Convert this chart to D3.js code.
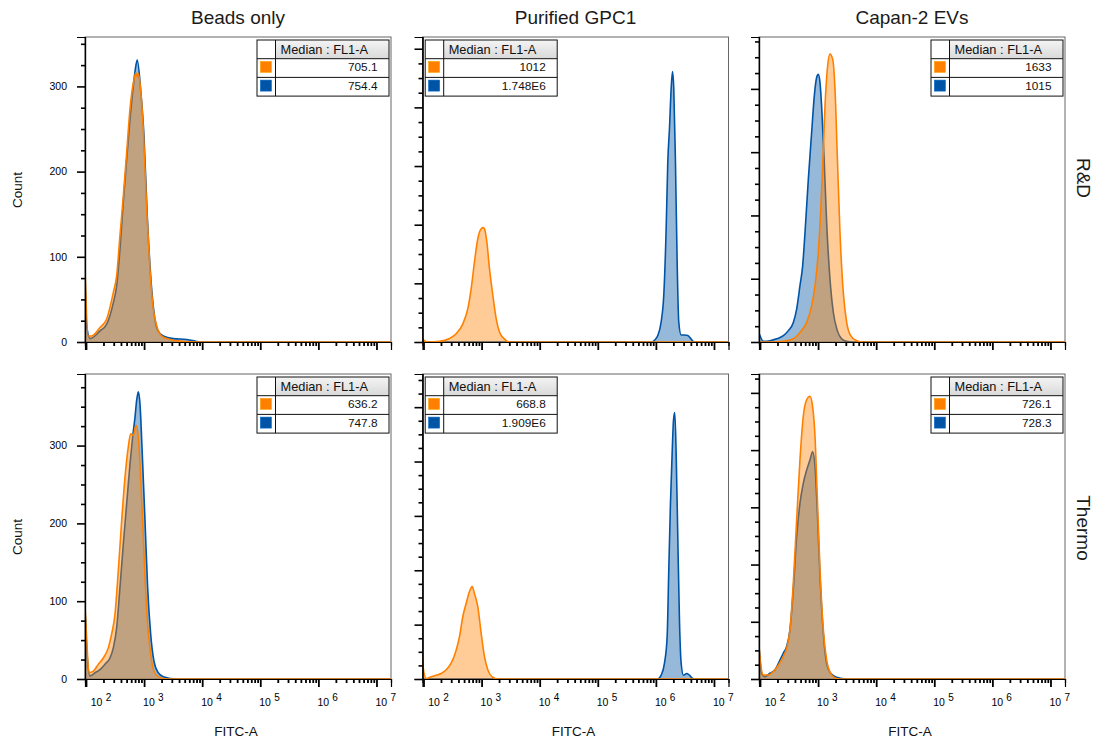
<!DOCTYPE html>
<html>
<head>
<meta charset="utf-8">
<script src="https://cdn.jsdelivr.net/npm/d3@7"></script>
<style>
  html, body { margin: 0; padding: 0; background: #fff; }
  svg { display: block; font-family: "Liberation Sans", Arial, Helvetica, sans-serif; }
</style>
</head>
<body>
<svg id="chart" width="1097" height="740"></svg>
<script>
// ---- labels ----
const columns = ["Beads only", "Purified GPC1", "Capan-2 EVs"];
const rows = ["R&D", "Thermo"];
const xExponents = [2, 3, 4, 5, 6, 7];
const countTicks = [0, 100, 200, 300];
const headerText = "Median : FL1-A";

// ---- medians shown in the stat tables ----
const rdMedianOrange = ["705.1", "1012", "1633"];
const rdMedianBlue = ["754.4", "1.748E6", "1015"];
const thermoMedianOrange = ["636.2", "668.8", "726.1"];
const thermoMedianBlue = ["747.8", "1.909E6", "728.3"];

// ---- count axis maximum per panel ----
const rdCountMax = [358, 520, 482];
const thermoCountMax = [392, 561, 533];

// ---- histograms: [log10(FITC-A), count] ----
const rdBeadsOrange = [[1.983,86],[2.04,7],[2.098,7],[2.241,17],[2.356,27],[2.47,58],[2.528,78],[2.585,125],[2.642,171],[2.70,222],[2.757,273],[2.814,304],[2.86,316],[2.88,311],[2.90,315],[2.929,304],[2.986,250],[3.045,156],[3.10,86],[3.158,39],[3.217,19],[3.303,7],[3.446,3],[3.618,1],[3.9,0],[7.25,0]];
const rdBeadsBlue = [[1.983,80],[2.01,20],[2.07,4],[2.241,13],[2.356,21],[2.47,46],[2.528,66],[2.585,109],[2.642,164],[2.70,214],[2.757,261],[2.814,300],[2.86,325],[2.883,331],[2.941,296],[2.998,242],[3.055,148],[3.113,78],[3.17,35],[3.227,15],[3.33,7],[3.5,4],[3.733,3],[3.88,1],[3.95,0],[7.25,0]];

const rdGpc1Orange = [[1.983,5],[2.02,2],[2.08,0],[2.275,1],[2.447,6],[2.562,14],[2.677,31],[2.763,57],[2.821,91],[2.878,137],[2.935,176],[2.993,193],[3.03,195],[3.05,193],[3.09,171],[3.136,125],[3.193,80],[3.251,40],[3.308,17],[3.394,5],[3.48,0],[7.25,0]];
const rdGpc1Blue = [[1.983,0],[5.919,0],[5.976,3],[6.033,11],[6.09,34],[6.136,80],[6.177,193],[6.205,307],[6.234,364],[6.263,432],[6.286,461],[6.308,432],[6.337,307],[6.366,137],[6.394,34],[6.435,12],[6.492,12],[6.549,11],[6.607,5],[6.664,0],[7.25,0]];

const rdCapanOrange = [[1.983,0],[2.2,0],[2.402,1],[2.574,5],[2.688,15],[2.803,31],[2.889,57],[2.947,89],[3.004,142],[3.044,205],[3.079,279],[3.119,373],[3.159,431],[3.205,455],[3.251,447],[3.291,400],[3.331,294],[3.377,173],[3.434,78],[3.492,31],[3.561,10],[3.664,2],[3.779,0],[7.25,0]];
const rdCapanBlue = [[1.983,14],[2.0,10],[2.057,1],[2.172,2],[2.287,5],[2.402,10],[2.488,18],[2.574,31],[2.631,52],[2.688,89],[2.734,120],[2.775,173],[2.832,257],[2.889,331],[2.935,389],[2.975,418],[3.004,423],[3.033,410],[3.061,373],[3.102,294],[3.147,189],[3.205,99],[3.262,47],[3.331,18],[3.406,5],[3.492,1],[3.606,0],[7.25,0]];

const thermoBeadsOrange = [[1.983,94],[2.011,53],[2.052,8],[2.126,10],[2.212,19],[2.298,27],[2.384,40],[2.442,58],[2.499,83],[2.556,139],[2.614,203],[2.671,259],[2.728,298],[2.769,315],[2.815,313],[2.861,326],[2.901,311],[2.929,277],[2.975,203],[3.016,130],[3.061,70],[3.113,32],[3.17,10],[3.244,3],[3.389,0],[7.25,0]];
const thermoBeadsBlue = [[1.983,90],[2.02,30],[2.069,4],[2.155,8],[2.241,12],[2.327,19],[2.413,27],[2.47,40],[2.528,66],[2.585,118],[2.642,173],[2.70,225],[2.757,276],[2.803,311],[2.843,336],[2.872,358],[2.901,369],[2.929,354],[2.969,289],[3.016,203],[3.061,118],[3.113,58],[3.17,23],[3.244,8],[3.33,3],[3.561,0],[7.25,0]];

const thermoGpc1Orange = [[1.983,41],[2.0,17],[2.046,1],[2.132,4],[2.218,7],[2.304,10],[2.39,17],[2.476,29],[2.562,53],[2.62,78],[2.677,115],[2.734,139],[2.792,161],[2.838,170],[2.878,157],[2.935,133],[2.993,84],[3.05,41],[3.107,17],[3.182,4],[3.279,0],[7.25,0]];
const thermoGpc1Blue = [[1.983,0],[6.0,0],[6.033,0],[6.091,7],[6.148,29],[6.194,78],[6.222,200],[6.251,323],[6.28,415],[6.303,476],[6.325,490],[6.349,415],[6.377,262],[6.406,108],[6.435,29],[6.475,7],[6.532,10],[6.578,7],[6.635,1],[6.693,0],[7.25,0]];

const thermoCapanOrange = [[1.983,57],[2.011,27],[2.057,7],[2.143,7],[2.229,13],[2.315,24],[2.401,39],[2.459,54],[2.516,86],[2.573,167],[2.631,278],[2.688,383],[2.745,459],[2.803,488],[2.861,494],[2.906,476],[2.947,424],[2.986,319],[3.033,191],[3.09,86],[3.148,33],[3.217,10],[3.32,1],[3.434,0],[7.25,0]];
const thermoCapanBlue = [[1.983,57],[2.029,10],[2.086,4],[2.172,10],[2.258,16],[2.344,33],[2.401,45],[2.459,57],[2.516,86],[2.573,156],[2.631,249],[2.688,307],[2.745,342],[2.803,365],[2.861,383],[2.906,397],[2.947,371],[2.986,295],[3.033,179],[3.09,80],[3.148,27],[3.217,10],[3.32,3],[3.492,0],[7.25,0]];

// ---- assemble per-panel lookups ----
const orangeSeries = [[rdBeadsOrange, rdGpc1Orange, rdCapanOrange], [thermoBeadsOrange, thermoGpc1Orange, thermoCapanOrange]];
const blueSeries = [[rdBeadsBlue, rdGpc1Blue, rdCapanBlue], [thermoBeadsBlue, thermoGpc1Blue, thermoCapanBlue]];
const orangeMedians = [rdMedianOrange, thermoMedianOrange];
const blueMedians = [rdMedianBlue, thermoMedianBlue];
const countMax = [rdCountMax, thermoCountMax];

// ---- layout ----
const FONT = "'Liberation Sans', Arial, Helvetica, sans-serif";
const ORANGE = "#ff8000";
const BLUE = "#0054a6";
const FILL_ALPHA = 0.41;
const panelW = 306, panelH = 305;
const colLeft = [85, 422.5, 759];
const rowTop = [37, 374];
const rowLabelY = [178, 528];
const countLabelY = [190, 537];

const svg = d3.select("#chart");
const defs = svg.append("defs");
const grad = defs.append("linearGradient").attr("id", "hdrGrad").attr("x1", 0).attr("y1", 0).attr("x2", 0).attr("y2", 1);
grad.append("stop").attr("offset", "0%").attr("stop-color", "#f4f4f4");
grad.append("stop").attr("offset", "100%").attr("stop-color", "#d9d9d9");

const x = d3.scaleLog().domain([Math.pow(10, 1.983), Math.pow(10, 7.25)]).range([0, panelW]);

const majorX = xExponents.map(e => Math.pow(10, e));
const minorX = [];
xExponents.forEach(e => { for (let k = 2; k <= 9; k++) { const v = k * Math.pow(10, e); if (v <= x.domain()[1]) minorX.push(v); } });

// column titles
columns.forEach((name, c) => {
  svg.append("text")
    .attr("x", colLeft[c] + panelW / 2).attr("y", 24)
    .attr("text-anchor", "middle")
    .attr("font-size", 19).attr("fill", "#1a1a1a")
    .text(name);
});

// row labels on the right
rows.forEach((name, r) => {
  svg.append("text")
    .attr("transform", `translate(1077,${rowLabelY[r]}) rotate(90)`)
    .attr("text-anchor", "middle")
    .attr("font-size", 19).attr("fill", "#1a1a1a")
    .text(name);
});

rows.forEach((rowName, r) => {
  columns.forEach((colName, c) => {
    const left = colLeft[c], top = rowTop[r];
    const g = svg.append("g").attr("transform", `translate(${left},${top})`);
    const y = d3.scaleLinear().domain([0, countMax[r][c]]).range([panelH, 0]);

    const clipId = `clip-${r}-${c}`;
    defs.append("clipPath").attr("id", clipId)
      .append("rect").attr("x", 0).attr("y", 0).attr("width", panelW).attr("height", panelH + 1);

    // frame
    g.append("rect").attr("x", 0).attr("y", 0).attr("width", panelW).attr("height", panelH)
      .attr("fill", "#fff").attr("stroke", "#666").attr("stroke-width", 1);

    const area = d3.area()
      .x(d => x(Math.pow(10, d[0])))
      .y0(y(0))
      .y1(d => y(d[1]))
      .curve(d3.curveMonotoneX);
    const line = d3.line()
      .x(d => x(Math.pow(10, d[0])))
      .y(d => y(d[1]))
      .curve(d3.curveMonotoneX);

    const plot = g.append("g").attr("clip-path", `url(#${clipId})`);
    // blue overlay underneath, orange overlay on top
    [[blueSeries[r][c], BLUE], [orangeSeries[r][c], ORANGE]].forEach(([data, color]) => {
      plot.append("path").datum(data).attr("d", area)
        .attr("fill", color).attr("fill-opacity", FILL_ALPHA);
      plot.append("path").datum(data).attr("d", line)
        .attr("fill", "none").attr("stroke", color).attr("stroke-width", 1.6)
        .attr("stroke-linejoin", "round");
    });

    // y axis
    const yMajor = d3.range(0, countMax[r][c] + 0.01, 100);
    const yMinor = d3.range(25, countMax[r][c] + 0.01, 25).filter(v => v % 100 !== 0);
    const yAxisG = g.append("g");
    yAxisG.call(d3.axisLeft(y).tickValues(yMinor).tickSize(4).tickFormat(""));
    yAxisG.append("g").call(d3.axisLeft(y).tickValues(yMajor).tickSize(8)
      .tickFormat(c === 0 ? (v => countTicks.includes(v) ? String(v) : "") : ""));
    yAxisG.selectAll(".domain").attr("stroke", "#000").attr("stroke-width", 1.2);
    yAxisG.selectAll(".tick line").attr("stroke", "#000");
    yAxisG.selectAll("g > g > .tick line").attr("stroke-width", 1.6);
    yAxisG.selectAll(".tick text").attr("font-size", 10.5).attr("x", -18)
      .attr("font-family", FONT).attr("fill", "#000");

    // x axis
    const xAxisG = g.append("g").attr("transform", `translate(0,${panelH})`);
    xAxisG.call(d3.axisBottom(x).tickValues(minorX).tickSize(4).tickFormat(""));
    xAxisG.append("g").call(d3.axisBottom(x).tickValues(majorX).tickSize(8).tickFormat(""));
    xAxisG.selectAll(".domain").attr("stroke", "#000").attr("stroke-width", 1.2);
    xAxisG.selectAll(".tick line").attr("stroke", "#000");
    xAxisG.selectAll("g > g > .tick line").attr("stroke-width", 1.8);

    if (r === rows.length - 1) {
      xExponents.forEach((e, i) => {
        const t = xAxisG.append("text")
          .attr("x", x(Math.pow(10, e)) + (i === 0 ? 4.7 : -1))
          .attr("y", 26.7)
          .attr("text-anchor", "start")
          .attr("font-family", FONT)
          .attr("font-size", 10.5).attr("fill", "#000");
        t.append("tspan").text("10");
        t.append("tspan").attr("dx", 3.3).attr("dy", -5).attr("font-size", 10).text(e);
      });
      svg.append("text")
        .attr("x", left + panelW / 2 - 2).attr("y", 736)
        .attr("text-anchor", "middle").attr("font-size", 13.5).attr("fill", "#111")
        .text("FITC-A");
    }

    if (c === 0) {
      svg.append("text")
        .attr("transform", `translate(22,${countLabelY[r]}) rotate(-90)`)
        .attr("text-anchor", "middle").attr("font-size", 13.5).attr("fill", "#111")
        .text("Count");
    }

    // stat table
    const tW = 132, c1 = 18.5, rh = 18.7;
    const tx = c === 1 ? 2.7 : panelW - 2 - tW;
    const ty = 3;
    const tg = g.append("g").attr("transform", `translate(${tx},${ty})`);
    tg.append("rect").attr("x", c1).attr("y", 0).attr("width", tW - c1).attr("height", rh)
      .attr("fill", "url(#hdrGrad)");
    tg.append("rect").attr("x", 0).attr("y", rh).attr("width", tW).attr("height", rh * 2).attr("fill", "#fff");
    tg.append("rect").attr("x", 0).attr("y", 0).attr("width", c1).attr("height", rh).attr("fill", "#fff");
    tg.append("text").attr("x", c1 + 5).attr("y", 14).attr("font-size", 12.8).attr("fill", "#111").text(headerText);
    [[orangeMedians[r][c], ORANGE], [blueMedians[r][c], BLUE]].forEach(([val, color], i) => {
      const ry = rh * (i + 1);
      tg.append("rect").attr("x", 3.4).attr("y", ry + 2.7).attr("width", 11).attr("height", 11)
        .attr("fill", color).attr("stroke", d3.color(color).brighter(0.6)).attr("stroke-width", 0.6);
      tg.append("text").attr("x", tW - 11.5).attr("y", ry + 12.5)
        .attr("text-anchor", "end").attr("font-size", 11.8).attr("fill", "#111").text(val);
    });
    // grid lines
    const gl = tg.append("g").attr("stroke", "#111").attr("stroke-width", 1).attr("fill", "none");
    gl.append("rect").attr("x", 0).attr("y", 0).attr("width", tW).attr("height", rh * 3);
    gl.append("line").attr("x1", c1).attr("x2", c1).attr("y1", 0).attr("y2", rh * 3);
    [1, 2].forEach(k => gl.append("line").attr("x1", 0).attr("x2", tW).attr("y1", rh * k).attr("y2", rh * k));
  });
});
</script>
</body>
</html>
